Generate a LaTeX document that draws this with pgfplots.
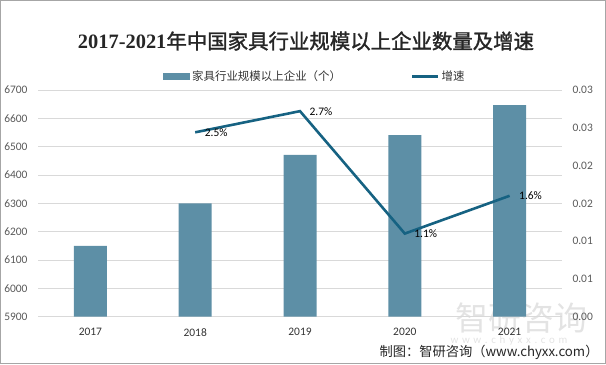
\documentclass[border=0pt]{standalone}
\usepackage{pgfplots}
\pgfplotsset{compat=1.18}
\usepackage{fontspec}
\setmainfont{Carlito}
\newfontfamily\cjk{Noto Sans CJK SC}
\newfontfamily\cjkt[FakeBold=1.5]{Noto Sans CJK SC}
\newfontfamily\serifdigits{Liberation Serif}
\definecolor{barcol}{RGB}{93,143,166}
\definecolor{linecol}{RGB}{22,98,130}
\definecolor{gridcol}{RGB}{217,217,217}
\definecolor{tickcol}{RGB}{89,89,89}
\begin{document}
\begin{tikzpicture}[x=1bp,y=1bp]
\useasboundingbox (0,0) rectangle (606,364);
\draw[gray!70, line width=1bp] (0.5,0.5) rectangle (605.5,363.5);
\node[font=\fontsize{20.5}{23}\selectfont, text=black!85] at (306,323) {{\serifdigits\bfseries 2017-2021}{\cjkt 年中国家具行业规模以上企业数量及增速}};
% watermark
\node[text=gray, opacity=0.22, font=\cjk\fontsize{33}{33}\selectfont, anchor=west] at (452,46) {智研咨询};
\node[text=gray, opacity=0.22, font=\fontsize{11}{11}\selectfont, anchor=west] at (447,23) {w\,\,w\,\,w\,\,.\,\,c\,\,h\,\,y\,\,x\,\,x\,\,.\,\,c\,\,o\,\,m};
\node[font=\cjk\fontsize{13.3}{15}\selectfont, text=black!85, anchor=east] at (602,12) {制图：智研咨询（www.chyxx.com）};
\begin{axis}[
  at={(38bp,47.3bp)}, anchor=south west, width=524bp, height=226.7bp, scale only axis,
  xmin=-0.5, xmax=4.5, ymin=5900, ymax=6700, ytick distance=100,
  xtick={0,...,4}, xticklabels={2017,2018,2019,2020,2021},
  axis line style={draw=none}, major tick length=0,
  ymajorgrids, grid style={gridcol, line width=0.8bp},
  tick label style={font=\fontsize{11.5}{13}\selectfont, text=tickcol},
  yticklabel style={xshift=-7bp},
  xticklabel style={yshift=-8bp, text=black!80},
  /pgf/number format/assume math mode=true,
  /pgf/number format/1000 sep={},
  scaled y ticks=false,
  clip=false,
  legend columns=2,
  legend style={at={(0.2385,1.0587)}, anchor=west, draw=none, fill=none, inner xsep=0pt, inner ysep=0pt,
    font=\cjk\fontsize{11.5}{13}\selectfont, text=black!80,
    /tikz/every even column/.append style={column sep=68bp}},
]
\addplot[ybar, bar width=33bp, fill=barcol, draw=none,
  legend image code/.code={\fill[barcol] (0bp,-3.5bp) rectangle (27bp,3.5bp);}]
  coordinates {(0,6150) (1,6300) (2,6471) (3,6541) (4,6647)};
\addlegendentry{家具行业规模以上企业（个）}
\addlegendimage{legend image code/.code={\draw[linecol, line width=2.6bp] (0bp,0bp) -- (26bp,0bp);}}
\addlegendentry{增速}
\end{axis}
\begin{axis}[
  at={(38bp,47.3bp)}, anchor=south west, width=524bp, height=226.7bp, scale only axis,
  xmin=-0.5, xmax=4.5, ymin=0, ymax=0.03,
  axis x line=none, axis y line*=right, axis line style={draw=none}, major tick length=0,
  ytick={0,0.005,0.01,0.015,0.02,0.025,0.03},
  yticklabels={0.00,0.01,0.01,0.02,0.02,0.03,0.03},
  scaled y ticks=false,
  tick label style={font=\fontsize{11.5}{13}\selectfont, text=tickcol},
  yticklabel style={xshift=7bp},
  clip=false,
]
\addplot[linecol, line width=2.6bp, mark=none, nodes near coords, point meta=explicit symbolic,
  every node near coord/.style={anchor=west, xshift=5bp, font=\fontsize{11.5}{13}\selectfont, text=black}]
  coordinates {(1,0.0244)[2.5\%] (2,0.0272)[2.7\%] (3,0.011)[1.1\%] (4,0.016)[1.6\%]};
\end{axis}
\end{tikzpicture}
\end{document}
